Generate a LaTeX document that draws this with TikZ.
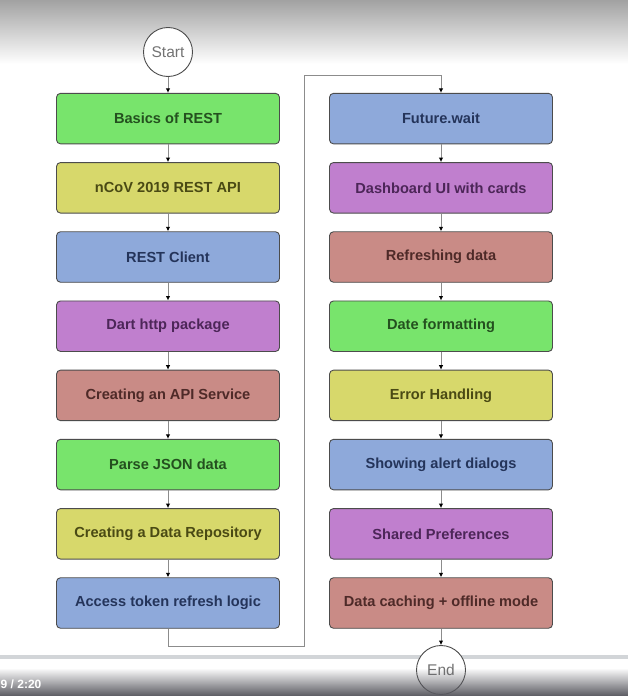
\documentclass[tikz,border=0pt]{standalone}
\usepackage{fontspec}
\setmainfont{Liberation Sans}
\newfontfamily\boxfont{Liberation Sans}
\usetikzlibrary{arrows.meta,fadings}
\definecolor{cgreen}{HTML}{78E46C}
\definecolor{cyellow}{HTML}{D7D86B}
\definecolor{cblue}{HTML}{8EA9DA}
\definecolor{cpurple}{HTML}{C07FCE}
\definecolor{cred}{HTML}{C98B86}
\definecolor{tgreen}{HTML}{24501F}
\definecolor{tyellow}{HTML}{4A4A14}
\definecolor{tblue}{HTML}{24345A}
\definecolor{tpurple}{HTML}{4C2658}
\definecolor{tred}{HTML}{4E2A28}
\definecolor{topgray}{HTML}{A2A2A2}
\definecolor{botgray}{HTML}{5A5A61}
\definecolor{bargray}{HTML}{D2D5D8}
\begin{document}
\begin{tikzpicture}[x=1pt,y=-1pt,
  stepbox/.style={draw=black!70, line width=0.9pt, rounded corners=4pt,
    minimum width=223pt, minimum height=50.5pt, inner sep=0pt,
    font=\boxfont\bfseries\fontsize{14.6}{17}\selectfont},
  gbox/.style={stepbox, fill=cgreen, text=tgreen},
  ybox/.style={stepbox, fill=cyellow, text=tyellow},
  bbox/.style={stepbox, fill=cblue, text=tblue},
  pbox/.style={stepbox, fill=cpurple, text=tpurple},
  rbox/.style={stepbox, fill=cred, text=tred},
  term/.style={circle, draw=black!70, fill=white, line width=0.9pt,
    minimum size=49pt, inner sep=0pt, text=black!55,
    font=\fontsize{15.5}{17}\selectfont},
  conn/.style={draw=black!45, line width=0.9pt,
    -{Latex[length=4.5pt,width=4.5pt,black]}}]
\useasboundingbox (0,0) rectangle (628,696);
\fill[white] (0,0) rectangle (628,696);
\shade[top color=topgray, bottom color=white] (0,0) rectangle (628,64);

% left column
\node[term] (start) at (168,52) {Start};
\node[gbox] (a1) at (168,118.6) {Basics of REST};
\node[ybox] (a2) at (168,187.8) {nCoV 2019 REST API};
\node[bbox] (a3) at (168,257.0) {REST Client};
\node[pbox] (a4) at (168,326.2) {Dart http package};
\node[rbox] (a5) at (168,395.4) {Creating an API Service};
\node[gbox] (a6) at (168,464.6) {Parse JSON data};
\node[ybox] (a7) at (168,533.8) {Creating a Data Repository};
\node[bbox] (a8) at (168,603.0) {Access token refresh logic};

% right column
\node[bbox] (b1) at (441,118.6) {Future.wait};
\node[pbox] (b2) at (441,187.8) {Dashboard UI with cards};
\node[rbox] (b3) at (441,257.0) {Refreshing data};
\node[gbox] (b4) at (441,326.2) {Date formatting};
\node[ybox] (b5) at (441,395.4) {Error Handling};
\node[bbox] (b6) at (441,464.6) {Showing alert dialogs};
\node[pbox] (b7) at (441,533.8) {Shared Preferences};
\node[rbox] (b8) at (441,603.0) {Data caching + offline mode};

\draw[conn] (start) -- (a1);
\draw[conn] (a1) -- (a2);
\draw[conn] (a2) -- (a3);
\draw[conn] (a3) -- (a4);
\draw[conn] (a4) -- (a5);
\draw[conn] (a5) -- (a6);
\draw[conn] (a6) -- (a7);
\draw[conn] (a7) -- (a8);

\coordinate (c1) at (304,646);
\coordinate (c2) at (304,75);
\draw[conn] (a8.south) |- (c1) -- (c2) -| (b1.north);

\draw[conn] (b1) -- (b2);
\draw[conn] (b2) -- (b3);
\draw[conn] (b3) -- (b4);
\draw[conn] (b4) -- (b5);
\draw[conn] (b5) -- (b6);
\draw[conn] (b6) -- (b7);
\draw[conn] (b7) -- (b8);

% video bar
\fill[bargray] (0,655) rectangle (628,659);
\node[term] (end) at (441,670) {End};
\draw[conn] (b8) -- (end);
\fill[botgray, path fading=north] (0,668) rectangle (628,696);
\node[anchor=west, text=white, inner sep=0pt, font=\bfseries\fontsize{12}{14}\selectfont] (time) at (0.5,684) {9 / 2:20};
\end{tikzpicture}
\end{document}
